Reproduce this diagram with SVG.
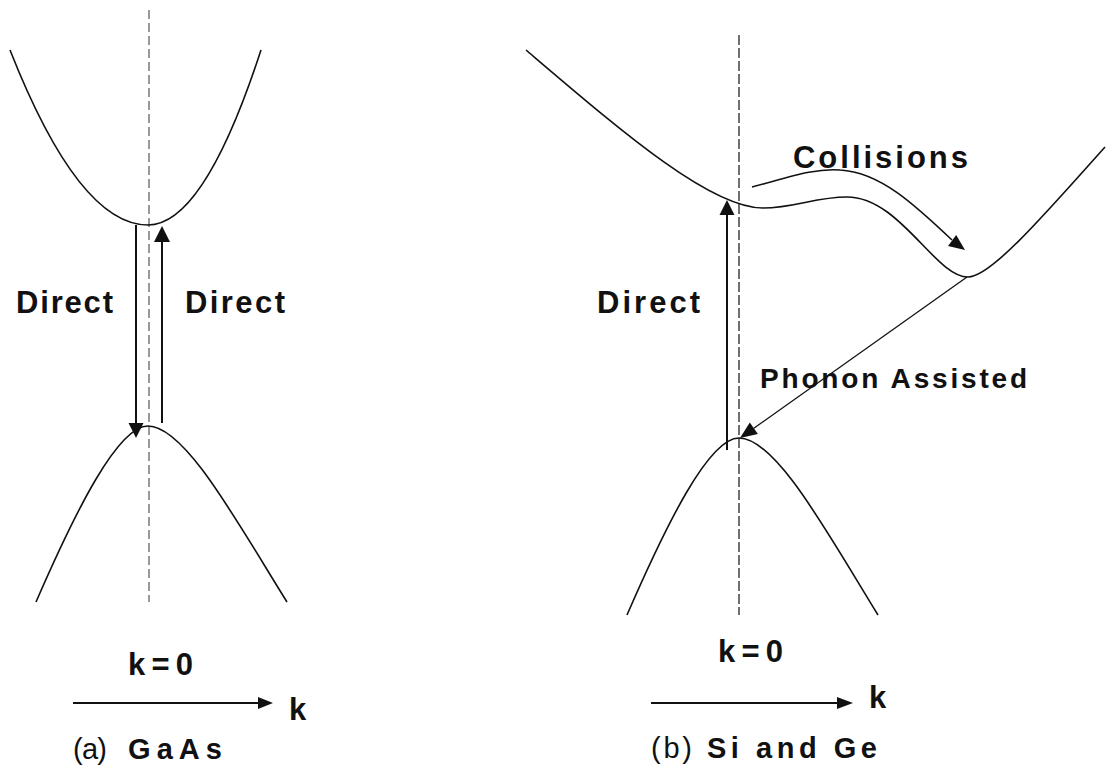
<svg xmlns="http://www.w3.org/2000/svg" width="1107" height="767" viewBox="0 0 1107 767">
  <style>
    .band { fill: none; stroke: #111; stroke-width: 1.6; }
    .axis-a { stroke: #808080; stroke-width: 1.6; stroke-dasharray: 9 4; }
    .axis-b { stroke: #333; stroke-width: 1.4; stroke-dasharray: 10 3; }
    .arrow { fill: none; stroke: #111; stroke-width: 2; }
    .thin { fill: none; stroke: #111; stroke-width: 1.3; }
    .head { fill: #111; stroke: none; }
    .lbl { font-family: "Liberation Sans", Arial, sans-serif; font-weight: bold; fill: #111; }
    .cap { font-family: "Liberation Sans", Arial, sans-serif; font-weight: normal; fill: #111; }
  </style>
  <rect width="1107" height="767" fill="#fff"/>

  <!-- (a) GaAs band structure -->
  <g id="gaas-k0-axis">
    <line class="axis-a" x1="149" y1="10" x2="149" y2="602"/>
  </g>
  <g id="gaas-conduction-band">
    <path class="band" d="M10,50 Q79,225 148,225 Q204,225 261,50"/>
  </g>
  <g id="gaas-valence-band">
    <path class="band" d="M36,602 C76,510 118,426 148,426 C185,426 237,522 287,602"/>
  </g>

  <!-- (b) Si / Ge band structure -->
  <g id="si-k0-axis">
    <line class="axis-b" x1="739" y1="35" x2="739" y2="615"/>
  </g>
  <g id="si-conduction-band">
    <path class="band" d="M526,50 C620,130 710,208 763,208 C795,208 815,197 847,197 C900,197 935,277 968,277 C990,277 1040,220 1105,147"/>
  </g>
  <g id="si-valence-band">
    <path class="band" d="M627,615 C667,523 709,438 739,438 C776,438 828,534 878,615"/>
  </g>

  <!-- transitions -->
  <g id="connectors">
    <!-- GaAs: recombination (down) -->
    <line class="arrow" x1="136" y1="225" x2="136" y2="423"/>
    <polygon class="head" points="128.5,423 143.5,423 136,438"/>
    <!-- GaAs: absorption (up) -->
    <line class="arrow" x1="162" y1="423" x2="162" y2="241"/>
    <polygon class="head" points="154,242 170,242 162,226"/>

    <!-- Si: direct absorption (up) -->
    <line class="arrow" x1="727" y1="450" x2="727" y2="214"/>
    <polygon class="head" points="719.5,215 734.5,215 727,200"/>

    <!-- Si: collisions into side valley -->
    <path class="thin" style="stroke-width:1.6" d="M752,187 C790,177 815,168 840,170 C880,172 915,205 952,240"/>
    <polygon class="head" points="948,246.1 956.2,234.9 965,250"/>

    <!-- Si: phonon-assisted recombination -->
    <line class="thin" x1="967" y1="277" x2="753.9" y2="428.2"/>
    <polygon class="head" points="757.9,433.9 749.8,422.5 740,438"/>

    <!-- k axes -->
    <line class="arrow" x1="73" y1="703" x2="259" y2="703"/>
    <polygon class="head" points="258,697 258,709 273,703"/>
    <line class="arrow" x1="651" y1="703" x2="838" y2="703"/>
    <polygon class="head" points="837,697 837,709 853,703"/>
  </g>

  <!-- labels -->
  <g id="labels-a">
    <text class="lbl" x="16" y="313" font-size="31" textLength="97" lengthAdjust="spacing">Direct</text>
    <text class="lbl" x="185" y="313" font-size="31" textLength="100" lengthAdjust="spacing">Direct</text>
    <text class="lbl" x="128" y="675" font-size="31" textLength="65" lengthAdjust="spacing">k=0</text>
    <text class="lbl" x="289" y="720" font-size="31">k</text>
    <text class="cap" x="73" y="759" font-size="29" textLength="34" lengthAdjust="spacing">(a)</text>
    <text class="lbl" x="128" y="759" font-size="29" textLength="94" lengthAdjust="spacing">GaAs</text>
  </g>
  <g id="labels-b">
    <text class="lbl" x="597" y="313" font-size="31" textLength="103" lengthAdjust="spacing">Direct</text>
    <text class="lbl" x="793" y="168" font-size="31" textLength="175" lengthAdjust="spacing">Collisions</text>
    <text class="lbl" x="760" y="388" font-size="28" textLength="267" lengthAdjust="spacing">Phonon Assisted</text>
    <text class="lbl" x="718" y="662" font-size="31" textLength="65" lengthAdjust="spacing">k=0</text>
    <text class="lbl" x="869" y="708" font-size="31">k</text>
    <text class="cap" x="651" y="758" font-size="29" textLength="41" lengthAdjust="spacing">(b)</text>
    <text class="lbl" x="707" y="758" font-size="29" textLength="170" lengthAdjust="spacing">Si and Ge</text>
  </g>
</svg>
